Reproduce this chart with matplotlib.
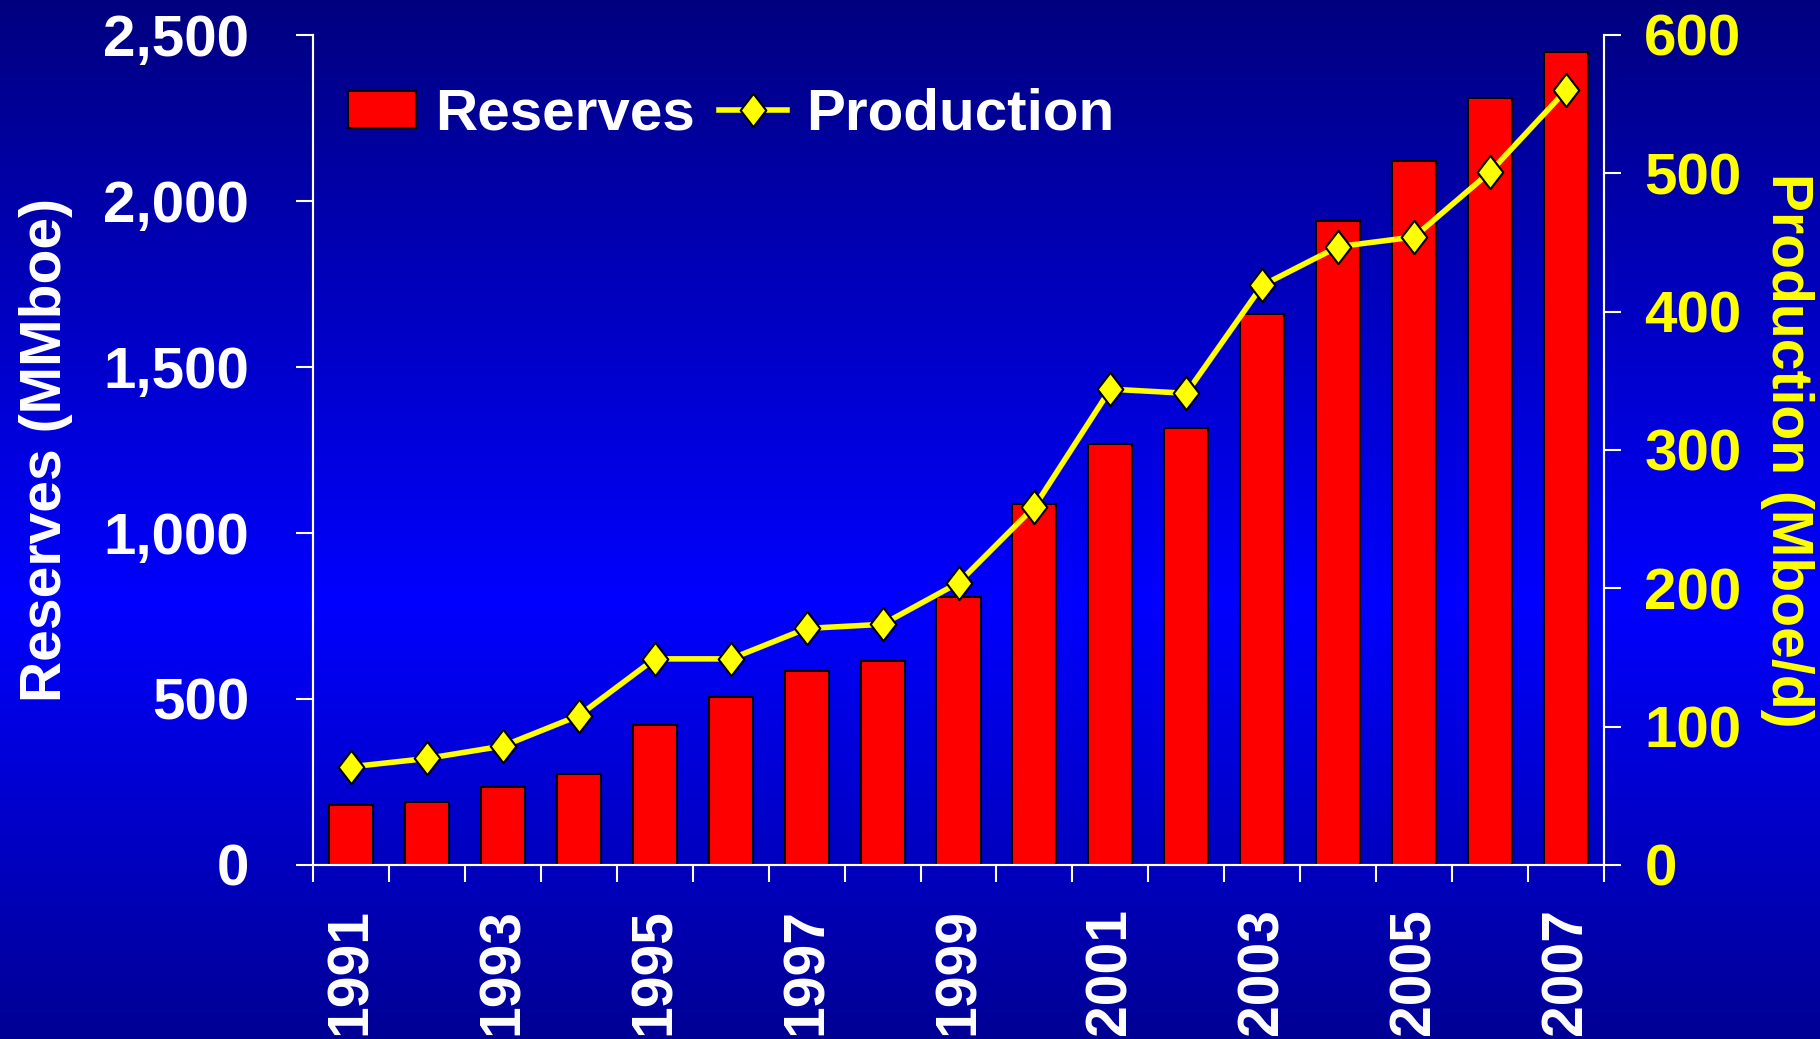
import numpy as np
import matplotlib
matplotlib.use("Agg")
import matplotlib.pyplot as plt
from matplotlib.path import Path
from matplotlib.patches import Patch
from matplotlib.lines import Line2D

years = [str(y) for y in range(1991, 2008)]
reserves = [182, 189, 234, 273, 423, 507, 584, 615, 808, 1087,
            1269, 1315, 1661, 1941, 2119, 2311, 2448]
production = [71, 77, 86, 108, 149, 149, 171, 174, 204, 259,
              344, 341, 419, 447, 454, 501, 560]
left_ticks = [0, 500, 1000, 1500, 2000, 2500]
right_ticks = [0, 100, 200, 300, 400, 500, 600]

plt.rcParams['font.family'] = ['Liberation Sans', 'DejaVu Sans']
plt.rcParams['font.weight'] = 'bold'

fig = plt.figure(figsize=(18.2, 10.39), dpi=100)

# background gradient: navy at top, bright blue lower middle, darker at bottom
bg = fig.add_axes([0, 0, 1, 1], zorder=-10)
t = np.linspace(0, 1, 400)
blue = np.interp(t, [0, 0.58, 1.0], [0.5, 1.0, 0.58])
grad = np.zeros((400, 1, 3))
grad[:, 0, 2] = blue
bg.imshow(grad, aspect='auto', extent=[0, 1, 0, 1], interpolation='bilinear')
bg.axis('off')

ax = fig.add_axes([313 / 1820, 1 - 865 / 1039, (1604 - 313) / 1820, (865 - 35) / 1039])
ax.set_facecolor('none')
x = np.arange(len(years))
ax.bar(x, reserves, width=0.58, color='#FF0000', edgecolor='black', linewidth=1.5, zorder=2)
ax.set_xlim(-0.5, len(years) - 0.5)
ax.set_ylim(0, 2500)
ax.set_yticks(left_ticks)
ax.set_yticklabels([f"{v:,}" for v in left_ticks])
ax.tick_params(axis='y', colors='white', labelsize=42, length=12, width=1.5, pad=34)
ax.set_ylabel('Reserves (MMboe)', color='white', fontsize=41, fontweight='bold', labelpad=22)

# x: boundary ticks, labels on every other year
ax.set_xticks(np.arange(-0.5, len(years), 1.0))
ax.set_xticklabels([])
ax.set_xticks(x[::2], minor=True)
ax.set_xticklabels(years[::2], minor=True, rotation=90, fontsize=41)
ax.tick_params(axis='x', which='major', colors='white', length=12, width=1.5)
ax.tick_params(axis='x', which='minor', colors='white', length=0, pad=31)
for lab in ax.get_xticklabels(minor=True):
    lab.set_va('top')

for s in ['left', 'bottom', 'right']:
    ax.spines[s].set_color('white')
    ax.spines[s].set_linewidth(1.5)
ax.spines['top'].set_visible(False)

ax2 = ax.twinx()
diamond = Path([(0, 1), (0.77, 0), (0, -1), (-0.77, 0), (0, 1)],
               [Path.MOVETO, Path.LINETO, Path.LINETO, Path.LINETO, Path.CLOSEPOLY])
ax2.plot(x, production, color='#FFFF00', linewidth=4, marker=diamond, markersize=24,
         markerfacecolor='#FFFF00', markeredgecolor='black', markeredgewidth=1.5, zorder=3)
ax2.set_ylim(0, 600)
ax2.set_yticks(right_ticks)
ax2.tick_params(axis='y', colors='white', labelcolor='#FFFF00', labelsize=42,
                length=12, width=1.5, pad=17)
ax2.set_ylabel('Production (Mboe/d)', color='#FFFF00', fontsize=41, fontweight='bold',
               rotation=270, labelpad=52)
for s in ['left', 'bottom', 'right']:
    ax2.spines[s].set_color('white')
    ax2.spines[s].set_linewidth(1.5)
ax2.spines['top'].set_visible(False)

handles = [Patch(facecolor='#FF0000', edgecolor='black', linewidth=1.5),
           Line2D([], [], color='#FFFF00', linewidth=4, marker=diamond, markersize=24,
                  markerfacecolor='#FFFF00', markeredgecolor='black', markeredgewidth=1.5)]
fig.legend(handles, ['Reserves', 'Production'], loc='upper left',
           bbox_to_anchor=(348 / 1820, 1 - 88 / 1039), ncol=2, frameon=False,
           fontsize=42, labelcolor='white', handlelength=1.17, handleheight=0.6,
           handletextpad=0.33, columnspacing=0.4, borderpad=0, borderaxespad=0)

fig.savefig('out.png', dpi=100)
